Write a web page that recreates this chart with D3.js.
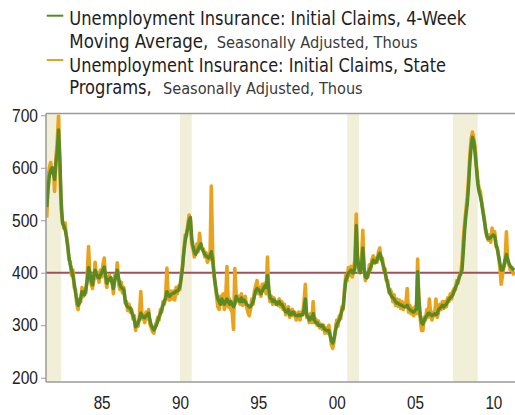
<!DOCTYPE html>
<html>
<head>
<meta charset="utf-8">
<script src="https://cdn.jsdelivr.net/npm/d3@7"></script>
<style>
  html, body { margin: 0; padding: 0; background: #fff; }
  svg { display: block; }
  text { font-family: "Liberation Sans Narrow", "Arial Narrow", "DejaVu Sans Condensed", sans-serif; }
</style>
</head>
<body>
<div id="chart"></div>
<script>
// Monthly observations, first value = Jan 1982 (thousands)
const startYear = 1982;
const ma4Week = [
  525, 560, 585, 595, 600, 590, 578, 610, 630, 672, 620, 540,   // 1982
  495, 490, 482, 470, 450, 430, 415, 405, 395, 380, 362, 348,   // 1983
  338, 342, 352, 364, 362, 358, 370, 385, 410, 400, 385, 377,   // 1984
  395, 405, 398, 392, 390, 395, 400, 405, 411, 395, 380, 385,   // 1985
  388, 391, 380, 370, 385, 395, 405, 390, 377, 372, 370, 367,   // 1986
  350, 338, 335, 333, 333, 325, 319, 310, 297, 300, 305, 312,   // 1987
  323, 318, 315, 314, 318, 320, 323, 310, 300, 295, 291, 295,   // 1988
  300, 308, 316, 322, 330, 338, 345, 352, 364, 358, 355, 358,   // 1989
  360, 361, 362, 365, 365, 368, 375, 390, 410, 440, 460, 475,   // 1990
  485, 500, 505, 465, 450, 440, 435, 440, 445, 450, 455, 445,   // 1991
  440, 435, 432, 430, 428, 432, 440, 425, 400, 380, 362, 350,   // 1992
  345, 340, 350, 345, 340, 345, 350, 345, 340, 345, 340, 335,   // 1993
  340, 355, 350, 348, 345, 352, 345, 348, 345, 340, 338, 335,   // 1994
  335, 340, 345, 355, 365, 370, 368, 365, 360, 365, 370, 375,   // 1995
  372, 395, 370, 352, 350, 345, 348, 345, 340, 342, 345, 340,   // 1996
  340, 335, 330, 325, 325, 330, 320, 320, 325, 325, 320, 318,   // 1997
  318, 320, 318, 320, 320, 330, 350, 320, 315, 310, 315, 312,   // 1998
  322, 310, 305, 305, 300, 300, 298, 300, 295, 292, 290, 290,   // 1999
  290, 280, 270, 266, 275, 288, 300, 305, 310, 318, 328, 335,   // 2000
  360, 386, 392, 400, 402, 405, 400, 400, 410, 490, 430, 410,   // 2001
  400, 410, 447, 410, 392, 390, 398, 405, 410, 418, 424, 420,   // 2002
  420, 425, 432, 437, 430, 420, 412, 400, 390, 378, 368, 360,   // 2003
  355, 352, 350, 345, 342, 342, 340, 338, 338, 336, 335, 335,   // 2004
  338, 332, 330, 328, 326, 325, 328, 330, 402, 350, 320, 305,   // 2005
  302, 308, 315, 318, 322, 323, 320, 318, 320, 322, 320, 322,   // 2006
  330, 332, 335, 338, 335, 338, 340, 345, 350, 352, 355, 358,   // 2007
  365, 372, 378, 385, 392, 398, 405, 440, 480, 510, 530, 565,   // 2008
  610, 640, 658, 650, 628, 600, 570, 555, 545, 533, 515, 500,   // 2009
  485, 470, 465, 465, 468, 470, 472, 470, 455, 445, 432, 418,   // 2010
  405, 405, 412, 425, 435, 425, 418, 412, 410, 407, 405         // 2011
];
const statePrograms = [
  505, 580, 600, 610, 590, 600, 555, 618, 650, 698, 600, 520,   // 1982
  500, 485, 495, 470, 455, 425, 420, 395, 405, 372, 368, 340,   // 1983
  330, 350, 345, 372, 355, 368, 362, 398, 450, 392, 378, 370,   // 1984
  385, 420, 390, 400, 382, 405, 392, 415, 428, 385, 372, 392,   // 1985
  395, 385, 388, 360, 395, 388, 419, 380, 368, 382, 362, 372,   // 1986
  342, 345, 328, 340, 325, 330, 312, 318, 290, 305, 298, 320,   // 1987
  364, 312, 320, 305, 325, 312, 330, 302, 295, 288, 285, 300,   // 1988
  305, 315, 310, 330, 325, 345, 340, 355, 409, 350, 348, 365,   // 1989
  350, 365, 348, 372, 360, 375, 368, 398, 415, 445, 472, 470,   // 1990
  492, 510, 498, 455, 445, 430, 440, 455, 440, 475, 450, 445,   // 1991
  445, 430, 438, 420, 435, 425, 565, 440, 395, 375, 355, 335,   // 1992
  330, 355, 340, 360, 330, 350, 412, 335, 350, 330, 325, 292,   // 1993
  408, 360, 345, 355, 340, 360, 338, 350, 355, 335, 325, 318,   // 1994
  330, 350, 340, 365, 375, 385, 360, 372, 355, 378, 365, 380,   // 1995
  360, 430, 360, 345, 355, 340, 352, 340, 345, 338, 350, 335,   // 1996
  345, 330, 340, 320, 330, 335, 315, 325, 330, 318, 325, 310,   // 1997
  312, 325, 310, 325, 322, 345, 378, 315, 320, 305, 322, 305,   // 1998
  345, 305, 312, 300, 308, 295, 302, 292, 300, 285, 295, 285,   // 1999
  300, 282, 262, 256, 270, 292, 310, 298, 318, 312, 335, 330,   // 2000
  370, 395, 385, 410, 395, 412, 392, 408, 425, 512, 420, 402,   // 2001
  412, 420, 481, 405, 385, 395, 392, 415, 405, 425, 432, 418,   // 2002
  428, 420, 440, 447, 425, 428, 405, 408, 385, 385, 362, 368,   // 2003
  362, 345, 358, 338, 350, 336, 348, 332, 345, 330, 342, 340,   // 2004
  370, 325, 338, 322, 332, 318, 335, 322, 426, 335, 312, 290,   // 2005
  290, 315, 310, 330, 315, 350, 320, 310, 325, 318, 350, 315,   // 2006
  325, 340, 330, 345, 332, 345, 335, 352, 345, 360, 350, 365,   // 2007
  370, 368, 385, 380, 395, 398, 420, 465, 495, 520, 545, 580,   // 2008
  625, 655, 668, 655, 640, 605, 580, 560, 555, 535, 520, 505,   // 2009
  480, 470, 462, 472, 458, 485, 470, 478, 450, 448, 430, 410,   // 2010
  378, 395, 410, 425, 478, 420, 415, 405, 410, 400, 395         // 2011
];
// Recession periods (decimal years)
const recessionStart = [1981.5, 1990.5, 2001.17, 2007.92];
const recessionEnd   = [1982.92, 1991.25, 2001.92, 2009.5];
const xTickYears  = [1985, 1990, 1995, 2000, 2005, 2010];
const xTickLabels = ["85", "90", "95", "00", "05", "10"];
const yTicks = [200, 300, 400, 500, 600, 700];
const referenceLevel = 400;
const legendLabels = [
  {main: ["Unemployment Insurance: Initial Claims, 4-Week", "Moving Average,"], sub: "Seasonally Adjusted, Thous", color: "#5a8a24"},
  {main: ["Unemployment Insurance: Initial Claims, State", "Programs,"], sub: "Seasonally Adjusted, Thous", color: "#e9a21b"}
];

const W = 515, H = 415;
const plot = {left: 46, right: 515, top: 113.5, bottom: 382};
const svg = d3.select("#chart").append("svg").attr("width", W).attr("height", H);

const x = d3.scaleLinear().domain([1981.95, 2011.88]).range([plot.left, plot.right]);
const y = d3.scaleLinear().domain([191.8, 703.4]).range([plot.bottom, plot.top]);

const toSeries = arr => arr.map((v, i) => ({t: startYear + i / 12, v}));
const green = toSeries(ma4Week), orange = toSeries(statePrograms);

svg.append("defs").append("clipPath").attr("id", "clip")
  .append("rect").attr("x", plot.left).attr("y", plot.top)
  .attr("width", plot.right - plot.left).attr("height", plot.bottom - plot.top);

const g = svg.append("g").attr("clip-path", "url(#clip)");
// recession shading
g.selectAll("rect.rec").data(recessionStart.map((s, i) => [s, recessionEnd[i]]))
  .join("rect").attr("class", "rec")
  .attr("x", d => x(d[0])).attr("width", d => x(d[1]) - x(d[0]))
  .attr("y", plot.top).attr("height", plot.bottom - plot.top)
  .attr("fill", "#f2efd9");

// reference line
g.append("line").attr("x1", plot.left).attr("x2", plot.right)
  .attr("y1", y(referenceLevel)).attr("y2", y(referenceLevel))
  .attr("stroke", "#a0505a").attr("stroke-width", 1.8);

const line = d3.line().x(d => x(d.t)).y(d => y(d.v)).curve(d3.curveLinear);
g.append("path").datum(orange).attr("d", line).attr("fill", "none")
  .attr("stroke", legendLabels[1].color).attr("stroke-width", 3.6).attr("stroke-linejoin", "round");
g.append("path").datum(green).attr("d", line).attr("fill", "none")
  .attr("stroke", legendLabels[0].color).attr("stroke-width", 3.4).attr("stroke-linejoin", "round");

// frame
const frameColor = "#9a9a9a";
svg.append("line").attr("x1", plot.left).attr("x2", plot.right).attr("y1", plot.top).attr("y2", plot.top)
  .attr("stroke", frameColor).attr("stroke-width", 1.5);
svg.append("line").attr("x1", plot.left).attr("x2", plot.right).attr("y1", plot.bottom).attr("y2", plot.bottom)
  .attr("stroke", frameColor).attr("stroke-width", 1.5);

// y axis
const yAxis = d3.axisLeft(y).tickValues(yTicks).tickSize(5).tickPadding(3).tickSizeOuter(0);
const ya = svg.append("g").attr("transform", `translate(${plot.left},0)`).call(yAxis);
ya.select(".domain").attr("stroke", frameColor).attr("stroke-width", 1.5)
  .attr("d", `M0,${plot.top}V${plot.bottom}`);
ya.selectAll(".tick line").attr("stroke", frameColor);
ya.selectAll(".tick text").attr("font-size", 18).attr("fill", "#222")
  .attr("textLength", 26).attr("lengthAdjust", "spacingAndGlyphs")
  .style("font-family", '"Liberation Sans Narrow", "Arial Narrow", sans-serif');

// x axis labels (centered at mid-year)
const xAxis = d3.axisBottom(x).tickValues(xTickYears.map(yv => yv + 0.5))
  .tickFormat((d, i) => xTickLabels[i]).tickSize(0).tickPadding(14);
const xa = svg.append("g").attr("transform", `translate(0,${plot.bottom})`).call(xAxis);
xa.select(".domain").remove();
xa.selectAll(".tick text").attr("font-size", 18).attr("fill", "#222")
  .attr("textLength", 17).attr("lengthAdjust", "spacingAndGlyphs")
  .style("font-family", '"Liberation Sans Narrow", "Arial Narrow", sans-serif');

// legend
const legendTop = [25, 71.7];
const lineGap = 22.7;
const mainWidths = [[397, 139], [376.7, 82.4]];
const subX = [216.7, 163];
const subWidth = [201, 199.7];
legendLabels.forEach((L, i) => {
  const b = legendTop[i];
  svg.append("line").attr("x1", 46.7).attr("x2", 63.3)
    .attr("y1", b - 9.3 + (i === 1 ? -2.4 : 0)).attr("y2", b - 9.3 + (i === 1 ? -2.4 : 0))
    .attr("stroke", L.color).attr("stroke-width", 2);
  L.main.forEach((txt, j) => {
    svg.append("text").attr("x", 69.3).attr("y", b + j * lineGap)
      .attr("font-size", 19.5).attr("fill", "#1e1e1e")
      .attr("textLength", mainWidths[i][j]).attr("lengthAdjust", "spacingAndGlyphs")
      .text(txt);
  });
  svg.append("text").attr("x", subX[i]).attr("y", b + lineGap)
    .attr("font-size", 16.5).attr("fill", "#3a3a3a")
    .attr("textLength", subWidth[i]).attr("lengthAdjust", "spacingAndGlyphs")
    .text(L.sub);
});
</script>
</body>
</html>
